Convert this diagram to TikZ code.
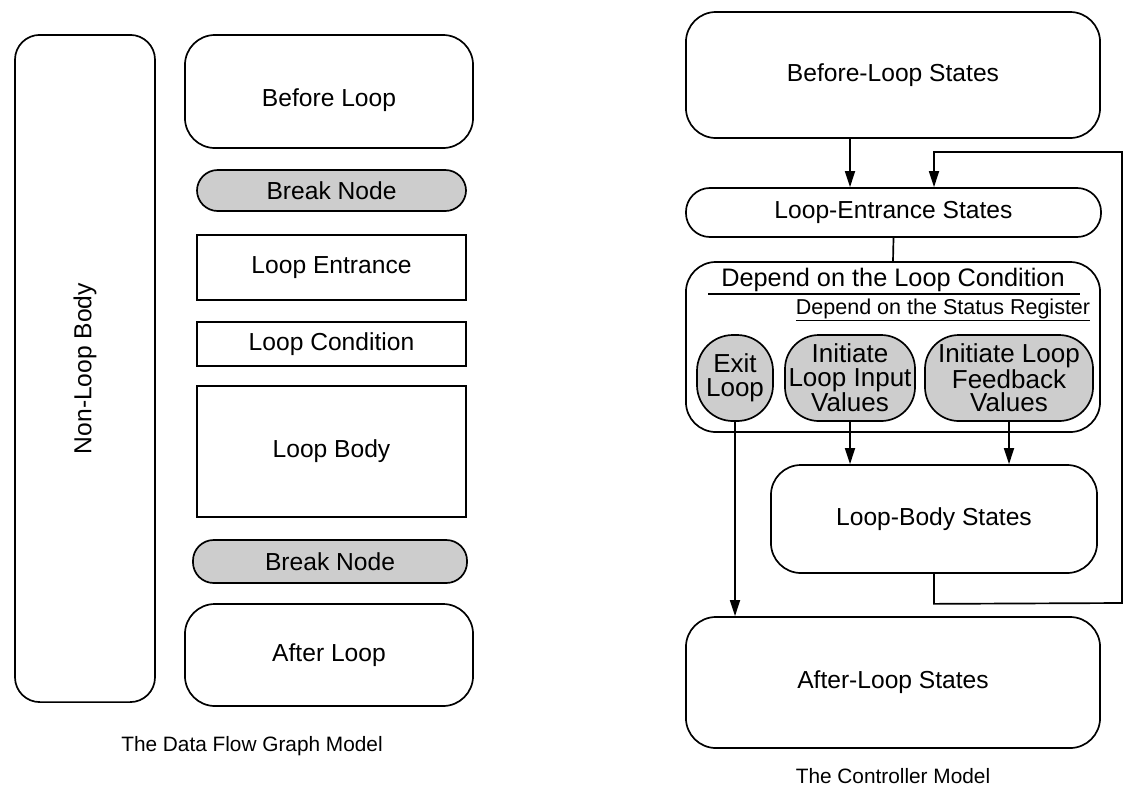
\documentclass[tikz,border=0pt]{standalone}
\usepackage{fontspec}
\setmainfont{Liberation Sans}
\usetikzlibrary{
  arrows.meta,
  positioning,
  calc
}
\definecolor{ShadeGray}{HTML}{CDCDCD}
\tikzset{
  block/.style={
    draw,
    line width=1.2pt,
    align=center,
    inner sep=2pt,
    font=\fontsize{17.5}{20}\selectfont
  },
  roundblock/.style={
    block,
    rounded corners=0.75cm
  },
  breaknode/.style={
    block,
    fill=ShadeGray,
    rounded corners=0.52cm
  },
  shadedstate/.style={
    block,
    fill=ShadeGray,
    rounded corners=0.85cm,
    minimum height=2.15cm,
    inner sep=0pt,
    font=\fontsize{18.5}{16.8}\selectfont
  },
  caption/.style={
    font=\fontsize{14.8}{17}\selectfont
  },
  flow/.style={
    -{Triangle[length=4mm,width=2.5mm]},
    line width=1.2pt
  },
  link/.style={
    line width=1.2pt
  }
}

\begin{document}
\begin{tikzpicture}[
  x=0.025cm,
  y=-0.025cm
]
  \useasboundingbox (0,0) rectangle (1124,790);

  % data flow graph model
  \node[roundblock, rounded corners=0.62cm, minimum width=3.5cm, minimum height=16.675cm]
    (nonloop) at (85,368.5) {};
  \node[block, draw=none, rotate=90] (nonlooplabel) at (nonloop.center) {Non-Loop Body};

  \node[roundblock, minimum width=7.2cm, minimum height=2.825cm]
    (beforeloop) at (329,91.5) {};
  \node[block, draw=none] (beforelooplabel) at (329,100) {Before Loop};
  \node[breaknode, minimum width=6.725cm, minimum height=1.025cm]
    (breaktop) at (331.5,190.5) {Break Node};
  \node[block, minimum width=6.725cm, minimum height=1.625cm]
    (entrance) at (331.5,267.5) {Loop Entrance};
  \node[block, minimum width=6.725cm, minimum height=1.1cm]
    (condition) at (331.5,344) {Loop Condition};
  \node[block, minimum width=6.725cm, minimum height=3.275cm]
    (body) at (331.5,451.5) {Loop Body};
  \node[breaknode, minimum width=6.85cm, minimum height=1.075cm]
    (breakbottom) at (330,561.5) {Break Node};
  \node[roundblock, minimum width=7.2cm, minimum height=2.55cm]
    (afterloop) at (329,655) {After Loop};

  \node[caption] (dfgcaption) at (252,746) {The Data Flow Graph Model};

  % controller model
  \node[roundblock, minimum width=10.35cm, minimum height=3.15cm]
    (beforestates) at (893,75) {Before-Loop States};
  \node[block, rounded corners=0.6cm, minimum width=10.375cm, minimum height=1.225cm]
    (entrancestates) at (893.5,212.5) {Loop-Entrance States};
  \node[roundblock, minimum width=10.35cm, minimum height=4.25cm]
    (dependbox) at (893,347) {};

  \node[block, draw=none, inner sep=0pt, font=\fontsize{18}{20}\selectfont]
    (dependcond) at (893,280) {Depend on the Loop Condition};
  \draw[link] (708,294) -- (1080,294);
  \node[block, draw=none, inner sep=0pt, anchor=east, font=\fontsize{15.3}{17}\selectfont]
    (dependstatus) at (1091,310) {\underline{Depend on the Status Register}};

  \node[shadedstate, rounded corners=0.9cm, minimum width=1.9cm]
    (exitloop) at (735,378) {Exit\\Loop};
  \node[shadedstate, minimum width=3.25cm]
    (initinput) at (850,378) {Initiate\\Loop Input\\Values};
  \node[shadedstate, minimum width=4.2cm]
    (initfeedback) at (1009,378) {Initiate Loop\\Feedback\\Values};

  \node[roundblock, minimum width=8.15cm, minimum height=2.7cm]
    (bodystates) at (934,519) {Loop-Body States};
  \node[roundblock, minimum width=10.35cm, minimum height=3.275cm]
    (afterstates) at (893,682.5) {After-Loop States};

  \node[caption] (ctrlcaption) at (893,776) {The Controller Model};

  % transitions
  \coordinate (feedbackdown) at ($(bodystates.south)+(0,30)$);
  \coordinate (feedbackright) at (1122,603);
  \coordinate (feedbacktop) at (1122,152);

  \draw[flow] (beforestates.south -| initinput) -- (entrancestates.north -| initinput);
  \draw[link] (entrancestates.south) -- (dependbox.north);
  \draw[flow] (exitloop.south) -- (afterstates.north -| exitloop);
  \draw[flow] (initinput.south) -- (bodystates.north -| initinput);
  \draw[flow] (initfeedback.south) -- (bodystates.north -| initfeedback);
  \draw[flow] (bodystates.south) -- (feedbackdown) -- (feedbackright)
    -- (feedbacktop) -- (feedbacktop -| bodystates) -- (entrancestates.north -| bodystates);

\end{tikzpicture}
\end{document}
